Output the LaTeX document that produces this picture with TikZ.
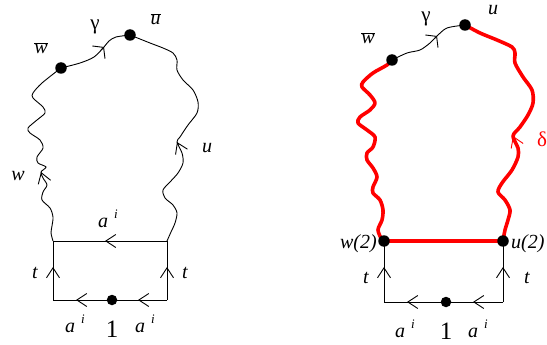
\documentclass[tikz,border=0pt]{standalone}
\usepackage{fontspec}
\setmainfont{Liberation Serif}
\usetikzlibrary{arrows.meta,decorations.markings,calc}
\newcommand\aisup{a\hspace{6pt}\raisebox{9pt}{\fontsize{13}{14}\selectfont i}}
\tikzset{
  bdot/.style={circle,fill=black,inner sep=0pt,minimum size=11.5pt},
  sdot/.style={circle,fill=black,inner sep=0pt,minimum size=10.5pt},
  lbl/.style={font=\fontsize{20}{22}\selectfont\itshape,inner sep=0pt},
  grk/.style={font=\fontsize{21}{23}\selectfont,inner sep=0pt},
  onelbl/.style={font=\fontsize{25}{27}\selectfont,inner sep=0pt},
  edgeline/.style={line width=0.9pt},
  redline/.style={draw=red,line width=3.6pt,line cap=round,line join=round},
  >={Straight Barb[length=10pt,width=13pt,line width=0.9pt]},
  arrat/.style={postaction={decorate},decoration={markings,mark=at position #1 with {\arrow{>}}}},
  arrtwo/.style 2 args={postaction={decorate},decoration={markings,mark=at position #1 with {\arrow{>}},mark=at position #2 with {\arrow{>}}}},
  tipa/.style={line width=0.9pt,-{Straight Barb[length=10pt,width=13pt,line width=0.9pt]}},
  tipg/.style={line width=0.9pt,-{Straight Barb[length=7pt,width=18pt,line width=0.9pt]}},
}
\begin{document}
\begin{tikzpicture}[x=1pt,y=-1pt]
\useasboundingbox (0,0) rectangle (547,345);
% ---------- left diagram ----------
\coordinate (Ltl) at (53,241);
\coordinate (Ltr) at (167,241);
\coordinate (Lbl) at (53,300);
\coordinate (Lbr) at (167,300);
\coordinate (Lone) at (112,300);
\coordinate (Lw) at (61,68);
\coordinate (Lu) at (130,35);
\coordinate (LwA) at (41,172);
\coordinate (LwB) at (43,178);
\coordinate (LuA) at (177,142);
\coordinate (LuB) at (182,153);
\coordinate (LgA) at (104,47);
\coordinate (LgB) at (94,57);

\draw[edgeline,arrat=62pt] (Ltr) -- (Ltl);
\draw[edgeline,arrtwo={29pt}{91pt}] (Lbr) -- (Lbl);
\draw[edgeline,arrat=33pt] (Lbl) -- (Ltl);
\draw[edgeline,arrat=33pt] (Lbr) -- (Ltr);

\draw[edgeline] plot[smooth] coordinates {(Ltl) (51,233) (52,226) (53,217) (50,208) (42,200) (43,192) (47,185) (LwB) (LwA) (46,167) (38,163) (37,157) (43,148) (40,140) (30,133) (28,128) (37,120) (45,113) (43,107) (33,98) (33,93) (42,83) (Lw)};
\draw[tipa] ($(LwA)!0.3!(LwB)$) -- (LwA);

\draw[edgeline] plot[smooth] coordinates {(Ltr) (171,232) (175,223) (177,213) (173,205) (165,198) (163,190) (170,182) (178,173) (183,163) (LuB) (LuA) (180,137) (188,125) (197,113) (198,102) (193,90) (183,80) (177,70) (177,60) (173,53) (163,48) (150,43) (Lu)};
\draw[tipa] ($(LuA)!0.3!(LuB)$) -- (LuA);

\draw[edgeline] plot[smooth] coordinates {(Lw) (80,63) (LgB) (LgA) (109,41) (116,37) (Lu)};
\draw[tipg] ($(LgA)!0.3!(LgB)$) -- (LgA);

\node[bdot] (Ldw) at (Lw) {};
\node[bdot] (Ldu) at (Lu) {};
\node[sdot] (Ldone) at (Lone) {};

\node[lbl] (Llwbar) at (41,48) {$\overline{\hbox{\itshape w}}$};
\node[lbl] (Llubar) at (155.5,19) {$\overline{\hbox{\itshape u}}$};
\node[grk] (Llg) at (95,27) {γ};
\node[lbl] (Llw) at (18,176) {w};
\node[lbl] (Llu) at (207,148) {u};
\node[lbl] (Llt1) at (35,273) {t};
\node[lbl] (Llt2) at (185,273) {t};
\node[lbl,anchor=base west] (Lla1) at (98,227) {\aisup};
\node[lbl,anchor=base west] (Lla2) at (65,332) {\aisup};
\node[lbl,anchor=base west] (Lla3) at (135,332) {\aisup};
\node[onelbl,anchor=base] (Ll1) at (112,337) {1};

% ---------- right diagram ----------
\coordinate (Rtl) at (384,241);
\coordinate (Rtr) at (503,241);
\coordinate (Rbl) at (384,302);
\coordinate (Rbr) at (503,302);
\coordinate (Rone) at (446,302);
\coordinate (Rw) at (392,60);
\coordinate (Ru) at (465,25);
\coordinate (RdA) at (513,136);
\coordinate (RdB) at (518,148);
\coordinate (RgA) at (437,36);
\coordinate (RgB) at (430,43);

\draw[edgeline,arrtwo={30pt}{96pt}] (Rbr) -- (Rbl);
\draw[edgeline,arrat=35pt] (Rbl) -- (Rtl);
\draw[edgeline,arrat=35pt] (Rbr) -- (Rtr);
\draw[redline] (Rtl) -- (Rtr);

\draw[redline] plot[smooth] coordinates {(Rtl) (382,240) (378,230) (382,220) (383,210) (380,200) (373,193) (373,187) (377,177) (373,168) (367,160) (367,153) (373,147) (375,137) (367,130) (358,123) (360,117) (370,110) (375,103) (370,95) (362,87) (363,82) (373,73) (387,65) (Rw)};

\draw[redline] plot[smooth] coordinates {(Rtr) (505,230) (508,220) (510,210) (505,200) (498,192) (502,183) (512,170) (518,157) (RdB) (RdA) (520,127) (528,115) (533,103) (532,90) (523,77) (515,63) (515,53) (512,47) (497,40) (480,33) (Ru)};
\draw[tipa,red] ($(RdA)!0.3!(RdB)$) -- (RdA);

\draw[edgeline] plot[smooth] coordinates {(Rw) (407,53) (420,50) (RgB) (RgA) (447,28) (Ru)};
\draw[tipg] ($(RgA)!0.3!(RgB)$) -- (RgA);

\node[bdot] (Rdw) at (Rw) {};
\node[bdot] (Rdu) at (Ru) {};
\node[bdot] (Rdw2) at (Rtl) {};
\node[bdot] (Rdu2) at (Rtr) {};
\node[sdot] (Rdone) at (Rone) {};

\node[lbl] (Rlwbar) at (368,38) {$\overline{\hbox{\itshape w}}$};
\node[lbl] (Rlu) at (493,10) {u};
\node[grk] (Rlg) at (426,19) {γ};
\node[grk,text=red,anchor=west] (Rld) at (537,139) {δ};
\node[lbl,anchor=east] (Rlw2) at (377,243.5) {w(2)};
\node[lbl,anchor=west] (Rlu2) at (511,243.5) {u(2)};
\node[lbl] (Rlt1) at (366,278) {t};
\node[lbl] (Rlt2) at (527,278) {t};
\node[lbl,anchor=base west] (Rla2) at (395,337) {\aisup};
\node[lbl,anchor=base west] (Rla3) at (468,337) {\aisup};
\node[onelbl,anchor=base] (Rl1) at (446,339) {1};
\end{tikzpicture}
\end{document}
